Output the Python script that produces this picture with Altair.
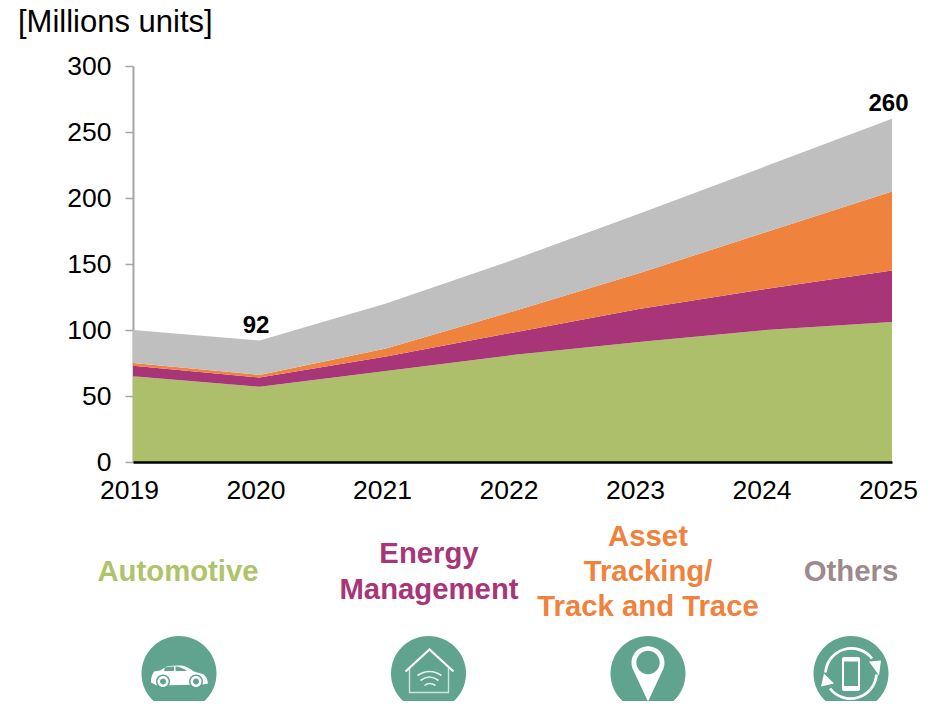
import altair as alt
import pandas as pd

YEARS = ["2019", "2020", "2021", "2022", "2023", "2024", "2025"]
AUTOMOTIVE = [65, 57, 69, 81, 91, 100, 106]
ENERGY = [8, 7, 11, 17, 25, 31, 39]
ASSET = [2, 2, 6, 16, 27, 43, 60]
OTHERS = [25, 26, 34, 39, 45, 50, 55]
SERIES = ["Automotive", "Energy Management", "Asset Tracking", "Others"]
COLORS = ["#ADBF6A", "#A83578", "#EF823C", "#BFBFBF"]
Y_TICKS = [0, 50, 100, 150, 200, 250, 300]
TOTAL_YEARS = ["2020", "2025"]
TOTALS = [92, 260]

ORIGIN_X, ORIGIN_Y = 133, 66
FONT = "Liberation Sans"
TEAL = "#60A38F"

rows = []
for name, values, rank in zip(SERIES, [AUTOMOTIVE, ENERGY, ASSET, OTHERS], range(4)):
    for yr, v in zip(YEARS, values):
        rows.append({"year": yr, "value": v, "series": name, "rank": rank})
df = pd.DataFrame(rows)

x = alt.X("year:O", scale=alt.Scale(type="point", padding=0),
          axis=alt.Axis(title=None, labelAngle=0, labelFontSize=26.5, labelFont=FONT, labelColor="black",
                        labelOffset=-4, labelPadding=15, tickSize=0, domainColor="black", domainWidth=2.5,
                        labelOverlap=False, labelFlush=False, zindex=1))
area = alt.Chart(df).mark_area(opacity=1).encode(
    x=x,
    y=alt.Y("value:Q", stack="zero", scale=alt.Scale(domain=[0, 300], nice=False),
            axis=alt.Axis(title=None, values=Y_TICKS, labelFontSize=26.5, labelFont=FONT, labelColor="black",
                          labelPadding=14, tickSize=8, tickColor="#A6A6A6", tickWidth=1.5,
                          domainColor="#A6A6A6", domainWidth=2, grid=False)),
    color=alt.Color("series:N", scale=alt.Scale(domain=SERIES, range=COLORS), legend=None),
    order=alt.Order("rank:Q"),
)

totals = alt.Chart(pd.DataFrame({"year": TOTAL_YEARS, "total": TOTALS})).mark_text(
    fontSize=24, fontWeight="bold", font=FONT, color="black", dy=-15, dx=-3.5
).encode(x=alt.X("year:O"), y=alt.Y("total:Q"), text="total:Q")

LABELS = [
    ("[Millions units]", 18, 32, 31, "normal", "black", "left"),
    ("Automotive", 178, 581, 29.3, "bold", "#AFC36B", "center"),
    ("Energy", 429, 563, 29.3, "bold", "#A83578", "center"),
    ("Management", 429, 599, 29.3, "bold", "#A83578", "center"),
    ("Asset", 648, 546, 29.3, "bold", "#EF823C", "center"),
    ("Tracking/", 648, 581, 29.3, "bold", "#EF823C", "center"),
    ("Track and Trace", 648, 616, 29.3, "bold", "#EF823C", "center"),
    ("Others", 851, 581, 29.3, "bold", "#9B8A8E", "center"),
]
one = alt.Data(values=[{"i": 0}])
text_layers = [
    alt.Chart(one).mark_text(text=t, fontSize=s, fontWeight=w, font=FONT, color=c, align=a, baseline="alphabetic")
    .encode(x=alt.value(px - ORIGIN_X), y=alt.value(py - ORIGIN_Y))
    for t, px, py, s, w, c, a in LABELS
]

def circ(cx, cy, r):
    return f"M{cx - r},{cy} A{r},{r} 0 1 1 {cx + r},{cy} A{r},{r} 0 1 1 {cx - r},{cy} Z"

CAR = (179, 673.5)
HOUSE = (428.5, 673.5)
PIN = (648, 673.5)
PHONE = (851, 673.5)
DISC = circ(0, 0, 37.5)
# (centre, svg path around centre, fill, stroke, strokeWidth)
PARTS = [
    (CAR, DISC, TEAL, None, 0),
    (HOUSE, DISC, TEAL, None, 0),
    (PIN, DISC, TEAL, None, 0),
    (PHONE, DISC, TEAL, None, 0),
    (CAR, "M-28,6 L-27,2 L-25,-2 L-19,-3 L-12,-7 Q-5,-8.5 3,-8 Q8,-7 15,-2 L25,1 L28,5 L29,10 L24,11 L-22,12 L-28,9 Z", "white", None, 0),
    (CAR, "M-14,-6 Q-9,-7 -5,-7 L-5,-2.5 L-15,-2.5 Z", TEAL, None, 0),
    (CAR, "M-3.5,-7 Q2,-7 8,-2.5 L-3.5,-2.5 Z", TEAL, None, 0),
    (CAR, circ(-16, 8, 7), TEAL, None, 0),
    (CAR, circ(17, 8, 7), TEAL, None, 0),
    (CAR, circ(-16, 8, 5.5), "white", None, 0),
    (CAR, circ(17, 8, 5.5), "white", None, 0),
    (CAR, circ(-16, 8, 3), TEAL, None, 0),
    (CAR, circ(17, 8, 3), TEAL, None, 0),
    (HOUSE, "M-19,-6 L-19,19 L20,19 L20,-6", "none", "#CFE3DC", 1.4),
    (HOUSE, "M-23,-2 L1,-24 L25,-2", "none", "white", 2.2),
    (HOUSE, "M-11,2 Q1,-6 13,2", "none", "#E4F0EC", 1.6),
    (HOUSE, "M-8,7 Q1,0 10,7", "none", "#E4F0EC", 1.6),
    (HOUSE, "M-4,12 Q1,8 7,12", "none", "#E4F0EC", 1.6),
    (PIN, "M0,28 L-15,-4 A16.5,16.5 0 1 1 15,-4 Z", "white", None, 0),
    (PIN, circ(0, -11, 11.7), TEAL, None, 0),
    (PHONE, "M-9,-14.5 Q-9,-16.5 -7,-16.5 L7,-16.5 Q9,-16.5 9,-14.5 L9,15.5 Q9,17.5 7,17.5 L-7,17.5 Q-9,17.5 -9,15.5 Z", "white", None, 0),
    (PHONE, "M-7,-12 L7,-12 L7,12.5 L-7,12.5 Z", TEAL, None, 0),
    (PHONE, "M-25.5,-1 A26,26 0 0 1 21,-15", "none", "white", 2.8),
    (PHONE, "M25.5,1 A26,26 0 0 1 -21,15", "none", "white", 2.8),
    (PHONE, "M30,-13 L18,-12 L28,2 Z", "white", None, 0),
    (PHONE, "M-30,13 L-27,0 L-17,10 Z", "white", None, 0),
]
icon_layers = []
for (cx, cy), path, fill, stroke, sw in PARTS:
    kw = {"shape": path, "size": 4, "filled": fill != "none", "opacity": 1, "fillOpacity": 1}
    if fill != "none":
        kw["fill"] = fill
        kw["strokeWidth"] = 0
    else:
        kw["fill"] = "transparent"
        kw["stroke"] = stroke
        kw["strokeWidth"] = sw
    icon_layers.append(alt.Chart(one).mark_point(**kw).encode(x=alt.value(cx - ORIGIN_X), y=alt.value(cy - ORIGIN_Y)))

chart = alt.layer(area, totals, *text_layers, *icon_layers).properties(
    width=759, height=396,
    padding={"left": 125, "top": 58, "right": 38, "bottom": 239},
    autosize=alt.AutoSizeParams(type="none"),
).configure_view(stroke=None)

chart.save("out.html", embed_options={"renderer": "svg", "actions": False})
